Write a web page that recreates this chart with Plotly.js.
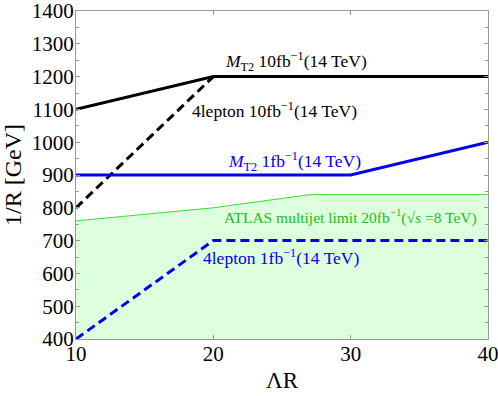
<!DOCTYPE html>
<html><head><meta charset="utf-8">
<script src="https://cdn.plot.ly/plotly-3.0.1.min.js"></script>
<style>html,body{margin:0;padding:0;background:#fff}#plot{width:498px;height:396px}</style>
</head><body><div id="plot"></div>
<script>
// Data
const atlasX = [10, 20, 27, 40];
const atlasY = [760, 800, 840, 840];
const mt2_10fb_X = [10, 20, 40];
const mt2_10fb_Y = [1100, 1200, 1200];
const lep4_10fb_X = [10, 20];
const lep4_10fb_Y = [800, 1200];
const mt2_1fb_X = [10, 30, 40];
const mt2_1fb_Y = [900, 900, 1000];
const lep4_1fb_X = [10, 20, 40];
const lep4_1fb_Y = [400, 700, 700];
const yTicks = [400, 500, 600, 700, 800, 900, 1000, 1100, 1200, 1300, 1400];
const xTicks = [10, 20, 30, 40];

const F = "Liberation Serif";
const traces = [
  {x: atlasX, y: atlasY, mode: 'lines', fill: 'tozeroy', fillcolor: 'rgba(215,255,215,0.85)',
   line: {color: '#33dd33', width: 1}},
  {x: mt2_10fb_X, y: mt2_10fb_Y, mode: 'lines', line: {color: '#000', width: 3}},
  {x: lep4_10fb_X, y: lep4_10fb_Y, mode: 'lines', line: {color: '#000', width: 3, dash: '9px,5px'}},
  {x: mt2_1fb_X, y: mt2_1fb_Y, mode: 'lines', line: {color: '#0000ee', width: 3}},
  {x: lep4_1fb_X, y: lep4_1fb_Y, mode: 'lines', line: {color: '#0000ee', width: 3, dash: '9px,5px'}}
];
const ann = (x, y, t, c, s) => ({x, y, xref: 'x', yref: 'y', text: t, showarrow: false,
  xanchor: 'left', yanchor: 'middle', font: {family: F, size: s, color: c}});
const layout = {
  width: 498, height: 396,
  margin: {l: 76, r: 10, t: 11, b: 57},
  paper_bgcolor: '#fff', plot_bgcolor: '#fff',
  showlegend: false,
  font: {family: F, color: '#000'},
  xaxis: {range: [10, 40], tickvals: xTicks, ticks: 'inside', ticklen: 4,
    tickcolor: '#999', showgrid: false, zeroline: false, showline: true, linecolor: '#999',
    linewidth: 1, mirror: 'ticks', tickfont: {family: F, size: 21}, ticklabelstandoff: -4,
    ticklabeloverflow: 'allow',
    title: {text: 'ΛR', font: {family: F, size: 23}, standoff: 6}},
  yaxis: {range: [400, 1400], tickvals: yTicks,
    ticks: 'inside', ticklen: 4, tickcolor: '#999', showgrid: false, zeroline: false,
    showline: true, linecolor: '#999', linewidth: 1, mirror: 'ticks',
    tickfont: {family: F, size: 21}, ticklabelstandoff: -3, ticklabeloverflow: 'allow',
    minor: {dtick: 50, ticks: 'inside', ticklen: 3, tickcolor: '#999'},
    title: {text: '1/R [GeV]', font: {family: F, size: 24}, standoff: 6}},
  annotations: [
    ann(20.7, 1247, '<i>M</i><sub>T2</sub> 10fb<sup>−1</sup>(14 TeV)', '#000', 17.5),
    ann(18.3, 1098, '4lepton 10fb<sup>−1</sup>(14 TeV)', '#000', 17.5),
    ann(20.9, 940, '<i>M</i><sub>T2</sub> 1fb<sup>−1</sup>(14 TeV)', '#0000ee', 17.5),
    ann(20.6, 774, 'ATLAS multijet limit 20fb<sup>−1</sup>(√<i>s</i> =8 TeV)', '#22bb22', 15.5),
    ann(19.1, 649, '4lepton 1fb<sup>−1</sup>(14 TeV)', '#0000ee', 17.5)
  ]
};
Plotly.newPlot('plot', traces, layout, {displayModeBar: false, staticPlot: true});
</script></body></html>
